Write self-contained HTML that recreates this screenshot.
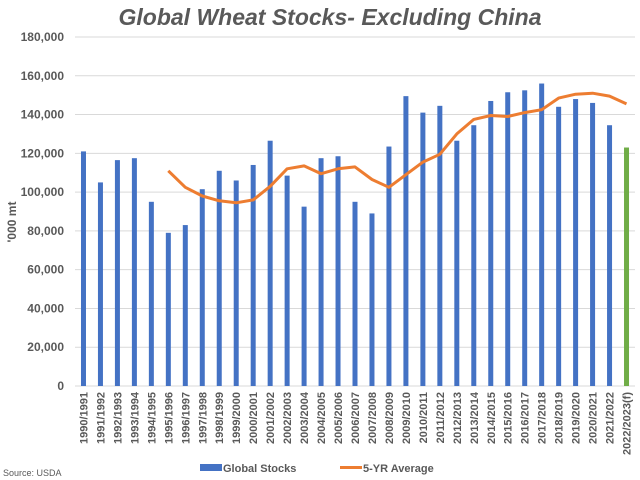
<!DOCTYPE html>
<html><head><meta charset="utf-8"><style>
body{margin:0;background:#fff;width:640px;height:480px;overflow:hidden}
svg{display:block;font-family:"Liberation Sans",sans-serif}
</style></head><body>
<svg id="chart" width="640" height="480">
<text x="330" y="25" text-anchor="middle" font-size="23" font-weight="bold" font-style="italic" fill="#595959">Global Wheat Stocks- Excluding China</text>
<text transform="translate(16,222) rotate(-90)" text-anchor="middle" font-size="12" font-weight="bold" fill="#595959">'000 mt</text>
<g id="grid"></g><g id="bars"></g><g id="line"></g><g id="xlabels"></g>
<g>
<rect x="200" y="464" width="22" height="7" fill="#4472C4"/>
<text x="223" y="472" font-size="11" font-weight="bold" fill="#595959">Global Stocks</text>
<line x1="340" y1="467.5" x2="362" y2="467.5" stroke="#ED7D31" stroke-width="3"/>
<text x="363" y="472" font-size="11" font-weight="bold" fill="#595959">5-YR Average</text>
</g>
<text x="3" y="476" font-size="9" fill="#595959">Source: USDA</text>
</svg>
<script>
const categories=["1990/1991","1991/1992","1992/1993","1993/1994","1994/1995","1995/1996","1996/1997","1997/1998","1998/1999","1999/2000","2000/2001","2001/2002","2002/2003","2003/2004","2004/2005","2005/2006","2006/2007","2007/2008","2008/2009","2009/2010","2010/2011","2011/2012","2012/2013","2013/2014","2014/2015","2015/2016","2016/2017","2017/2018","2018/2019","2019/2020","2020/2021","2021/2022","2022/2023(f)"];
const stocks=[121000,105000,116500,117500,95000,79000,83000,101500,111000,106000,114000,126500,108500,92500,117500,118500,95000,89000,123500,149500,141000,144500,126500,134500,147000,151500,152500,156000,144000,148000,146000,134500,123000];
const avg5=[null,null,null,null,null,111000,102500,98000,95500,94500,96000,103000,112000,113500,109500,112000,113000,106500,102500,109000,115500,119500,130000,137500,139500,139000,141000,142500,148500,150500,151000,149500,145500];
const yTicks=[0,20000,40000,60000,80000,100000,120000,140000,160000,180000];
const NS="http://www.w3.org/2000/svg";
const y0=386,yTop=37,yMax=180000,xL=75,xR=635;
const n=categories.length,step=(xR-xL)/n;
function y(v){return y0-(v/yMax)*(y0-yTop);}
function x(i){return xL+step*(i+0.5);}
function mk(t,a,p){const e=document.createElementNS(NS,t);for(const k in a)e.setAttribute(k,a[k]);p.appendChild(e);return e;}
const grid=document.getElementById('grid');
yTicks.forEach(v=>{
 const l=mk('line',{x1:xL,x2:xR,y1:y(v),y2:y(v),stroke:'#d9d9d9','stroke-width':1},grid);
 
 
 const t=mk('text',{x:64,y:y(v)+4,'text-anchor':'end','font-size':12,'font-weight':'bold',fill:'#595959'},grid);
 t.textContent=v.toLocaleString('en-US');
 
 
});
const bars=document.getElementById('bars'),xl=document.getElementById('xlabels');
stocks.forEach((v,i)=>{
 const r=mk('rect',{x:x(i)-2.5,y:y(v),width:5,height:y0-y(v),fill:i===n-1?'#70AD47':'#4472C4'},bars);
 
 
});
categories.forEach((c,i)=>{
 const t=mk('text',{transform:`translate(${x(i)+4},392) rotate(-90)`,'text-anchor':'end','font-size':11,'font-weight':'bold',fill:'#595959'},xl);
 t.textContent=c;
 
 
});
let d='';avg5.forEach((v,i)=>{if(v!=null)d+=(d?'L':'M')+x(i).toFixed(1)+','+y(v).toFixed(1);});
const p=mk('path',{d:d,fill:'none',stroke:'#ED7D31','stroke-width':3,'stroke-linejoin':'round'},document.getElementById('line'));


</script>
</body></html>
